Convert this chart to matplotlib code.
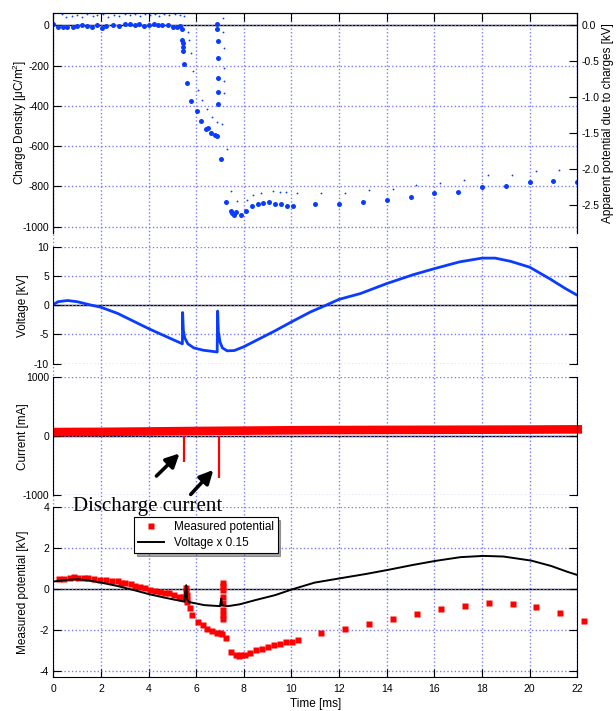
import matplotlib
matplotlib.use('Agg')
import matplotlib.pyplot as plt

plt.rcParams['font.family'] = ['Liberation Sans', 'DejaVu Sans']
plt.rcParams['axes.unicode_minus'] = False

# ---- panel 1: charge density (big dots, left axis) ----
charge_t = [0.0, 0.21, 0.42, 0.56, 0.81, 1.01, 1.2, 1.43, 1.61, 1.82, 2.03, 2.21, 2.52, 2.76,
            3.01, 3.22, 3.43, 3.61, 3.82, 4.0, 4.21, 4.41, 4.57, 4.8, 5.01, 5.18, 5.32, 5.39,
            5.42, 5.43, 5.44, 5.45, 5.5, 5.62, 5.8, 6.02, 6.2, 6.4, 6.5, 6.6, 6.78, 6.86,
            6.87, 6.88, 6.9, 6.91, 6.92, 6.92, 6.93, 7.05, 7.26, 7.45, 7.52, 7.57, 7.68,
            7.86, 8.09, 8.33, 8.58, 8.82, 9.07, 9.3, 9.58, 9.82, 10.07,
            11.0, 12.0, 13.0, 14.0, 15.0, 16.0, 17.0, 18.0, 19.0, 20.0, 21.0, 22.0]
charge_uc = [6, -10, -10, -10, -10, -5, 2, -3, -8, 1, -14, -4, 3, -1,
             8, 8, 4, 5, -2, 1, 5, 1, 0, 3, -8, -7, -1, -20,
             -75, -90, -110, -130, -194, -286, -376, -424, -474, -513, -510, -536, -546, -550,
             5, -20, -80, -164, -264, -330, -392, -665, -877, -920, -933, -940, -926,
             -940, -920, -899, -889, -883, -877, -886, -886, -899, -896,
             -887, -887, -877, -869, -853, -834, -828, -803, -796, -780, -775, -778]

# ---- panel 1: apparent potential (small dots, right axis) ----
appar_t = [0.35, 0.55, 0.8, 1.0, 1.2, 1.4, 1.65, 1.85, 2.1, 2.3, 2.55, 2.75, 3.0, 3.2, 3.45,
           3.65, 3.85, 4.05, 4.25, 4.45, 4.65, 4.85, 5.1, 5.3, 5.5,
           5.67, 5.71, 5.77, 5.85, 6.06, 6.25, 6.46, 6.65, 6.88, 7.07,
           7.11, 7.13, 7.16, 7.16, 7.17, 7.17, 7.28, 7.46, 7.7, 8.12, 8.39, 8.74, 9.23, 9.51,
           9.77, 10.24, 11.26, 12.26, 13.27, 14.26, 15.24, 16.25, 17.24, 18.27, 19.25, 20.26,
           21.24, 22.26]
appar_kv = [0.15, 0.12, 0.13, 0.14, 0.12, 0.15, 0.13, 0.14, 0.16, 0.11, 0.14, 0.13, 0.15, 0.14, 0.16,
            0.13, 0.15, 0.14, 0.16, 0.13, 0.15, 0.14, 0.15, 0.14, 0.13,
            -0.09, -0.2, -0.39, -0.64, -0.9, -1.04, -1.17, -1.28, -1.35, -1.38,
            0.1, -0.09, -0.32, -0.6, -0.78, -0.94, -1.72, -2.31, -2.45, -2.43, -2.36, -2.33, -2.31, -2.32,
            -2.32, -2.34, -2.33, -2.33, -2.30, -2.28, -2.23, -2.19, -2.16, -2.09, -2.08, -2.03,
            -2.02, -2.0]

# ---- panel 2: voltage ----
volt_t = [0, 0.2, 0.6, 1.0, 1.5, 2.0, 2.7, 3.35, 4.0, 4.65, 5.2, 5.42, 5.43, 5.46, 5.52, 5.65,
          5.9, 6.3, 6.6, 6.88, 6.9, 6.93, 7.0, 7.1, 7.3, 7.6, 8.0, 8.6, 9.3, 10.0, 10.8, 11.45,
          12.0, 12.9, 14.0, 15.1, 16.0, 17.05, 18.0, 18.55, 19.2, 20.0, 20.85, 21.5, 22.0]
volt_kv = [0.1, 0.6, 0.8, 0.6, 0.1, -0.35, -1.4, -2.7, -4.0, -5.2, -6.2, -6.6, -1.25, -4.3, -5.6, -6.6,
           -7.3, -7.7, -7.85, -8.0, -1.0, -4.5, -6.3, -7.3, -7.8, -7.75, -7.1, -5.85, -4.4, -2.85, -1.15, 0.0,
           1.0, 2.0, 3.7, 5.2, 6.25, 7.4, 8.05, 8.05, 7.5, 6.5, 4.5, 2.85, 1.7]

# ---- panel 3: current ----
current_t = [0, 2, 4, 6, 8, 10, 12, 14, 16, 18, 20, 22.2]
current_ma = [72, 75, 82, 90, 96, 102, 106, 108, 110, 112, 114, 118]
spike_t = [5.48, 6.95]
spike_ma = [-430, -712]

# ---- panel 4: measured potential and scaled voltage ----
meas_t = [0.22, 0.46, 0.71, 0.88, 1.04, 1.29, 1.46, 1.7, 1.95, 2.2, 2.45, 2.7, 2.86, 3.03, 3.25,
          3.44, 3.66, 3.86, 4.06, 4.27, 4.49, 4.69, 4.85, 5.07, 5.26, 5.43, 5.51,
          5.58, 5.59, 5.6, 5.61, 5.62, 5.76, 5.84, 6.06, 6.27, 6.46, 6.67, 6.89, 7.0, 7.09,
          7.12, 7.12, 7.12, 7.13, 7.13, 7.13, 7.14, 7.14, 7.25, 7.47, 7.67, 7.78, 7.9, 8.03,
          8.26, 8.53, 8.77, 9.02, 9.27, 9.52, 9.77, 10.02, 10.28,
          11.26, 12.25, 13.26, 14.25, 15.28, 16.27, 17.27, 18.28, 19.29, 20.28, 21.27, 22.28]
meas_kv = [0.5, 0.5, 0.55, 0.59, 0.57, 0.57, 0.57, 0.52, 0.47, 0.46, 0.42, 0.39, 0.33, 0.29, 0.24,
           0.16, 0.1, 0.05, -0.03, -0.07, -0.11, -0.2, -0.2, -0.28, -0.36, -0.39, -0.39,
           0.05, -0.1, -0.3, -0.5, -0.6, -0.93, -1.26, -1.58, -1.75, -1.91, -2.02, -2.12, -2.15, -2.19,
           0.33, 0.16, -0.03, -0.36, -0.69, -1.0, -1.26, -1.47, -2.37, -3.05, -3.21, -3.26, -3.21, -3.21,
           -3.1, -2.97, -2.92, -2.81, -2.72, -2.68, -2.56, -2.56, -2.48,
           -2.12, -1.94, -1.7, -1.45, -1.21, -0.96, -0.82, -0.65, -0.72, -0.85, -1.14, -1.53]

scaled_t = [0, 0.55, 1.04, 1.54, 2.0, 2.7, 3.36, 4.0, 4.69, 5.5, 5.58, 5.62, 5.7, 6.34, 7.0,
            7.05, 7.08, 7.33, 7.83, 8.5, 9.32, 10.03, 10.98, 12.05, 13.13, 14.06, 15.1, 16.06,
            17.1, 18.06, 18.9, 20.07, 20.9, 21.57, 22.0]
scaled_kv = [0.38, 0.46, 0.49, 0.42, 0.33, 0.16, -0.03, -0.23, -0.41, -0.6, 0.2, -0.5, -0.62, -0.77, -0.82,
             -0.45, -0.78, -0.82, -0.73, -0.52, -0.28, 0.0, 0.33, 0.54, 0.75, 0.95, 1.19, 1.39,
             1.57, 1.63, 1.6, 1.4, 1.14, 0.86, 0.7]

x_ticks = list(range(0, 23, 2))
grid_col = '#7a7aff'
blue = '#0a3cff'
red = '#ff0000'
tick_fs = 7.5
label_fs = 8.5

W, H = 616, 711
fig = plt.figure(figsize=(W / 100, H / 100), dpi=100)


def rect(top, bottom, left=53.3, right=577.3):
    return [left / W, 1 - bottom / H, (right - left) / W, (bottom - top) / H]


# background axes carrying the vertical grid through all panels
bg = fig.add_axes(rect(12.7, 676.7))
bg.set_xlim(0, 22)
bg.set_xticks(x_ticks)
bg.grid(axis='x', color=grid_col, ls=':', lw=1.0)
bg.tick_params(length=0, labelbottom=False, labelleft=False)
for s in bg.spines.values():
    s.set_visible(False)


def style(ax, top=False, bottom=False):
    ax.set_facecolor('none')
    ax.set_xlim(0, 22)
    ax.set_xticks(x_ticks)
    ax.spines['top'].set_visible(top)
    ax.spines['bottom'].set_visible(bottom)
    ax.tick_params(direction='in', length=5.5, width=0.8, labelsize=tick_fs, pad=3,
                   top=top, bottom=bottom, labelbottom=bottom, right=True)
    ax.grid(axis='y', color=grid_col, ls=':', lw=1.0)
    ax.axhline(0, color='black', lw=1.0, zorder=1.5)


# panel 1
ax1 = fig.add_axes(rect(12.7, 233))
style(ax1, top=True)
ax1.tick_params(axis='y', right=False)
ax1.plot(charge_t, charge_uc, 'o', color=blue, ms=3.6, mec='none')
ax1.set_ylim(-1031, 62.6)
ax1.set_yticks([0, -200, -400, -600, -800, -1000])
ax1.set_ylabel(r'Charge Density [$\mathregular{\mu}$C/m$^\mathregular{2}$]', fontsize=label_fs)
ax1r = ax1.twinx()
ax1r.set_ylim(-2.893, 0.175)
ax1r.plot(appar_t, appar_kv, 'o', color=blue, ms=1.3, mec='none')
ax1r.set_yticks([0.0, -0.5, -1.0, -1.5, -2.0, -2.5])
ax1r.set_yticklabels(['0.0', '-0.5', '-1.0', '-1.5', '-2.0', '-2.5'])
ax1r.tick_params(direction='in', length=5.5, width=0.8, labelsize=tick_fs, pad=3)
ax1r.spines['bottom'].set_visible(False)
ax1r.set_ylabel('Apparent potential due to charges [kV]', fontsize=label_fs, labelpad=2)

# panel 2
ax2 = fig.add_axes(rect(246.7, 363.7))
style(ax2)
ax2.plot(volt_t, volt_kv, color=blue, lw=2.0)
ax2.set_ylim(-10, 10)
ax2.set_yticks([10, 5, 0, -5, -10])
ax2.set_ylabel('Voltage [kV]', fontsize=label_fs)

# panel 3
ax3 = fig.add_axes(rect(377.3, 495.3))
style(ax3)
ax3.plot(current_t, current_ma, color=red, lw=6.2, solid_capstyle='butt', clip_on=False)
ax3.vlines(spike_t, 0, spike_ma, color=red, lw=1.6)
ax3.set_ylim(-1000, 1000)
ax3.set_yticks([1000, 0, -1000])
ax3.set_ylabel('Current [mA]', fontsize=label_fs)
arrow = dict(arrowstyle='-|>', lw=2.6, color='black', mutation_scale=20, shrinkA=0, shrinkB=0)
ax3.annotate('', xy=(5.3, -290), xytext=(4.33, -673), arrowprops=arrow, annotation_clip=False)
ax3.annotate('', xy=(6.72, -570), xytext=(5.77, -985), arrowprops=arrow, annotation_clip=False)
fig.text(73 / W, 1 - 506 / H, 'Discharge current', family=['Liberation Serif', 'DejaVu Serif'],
         fontsize=15, va='center', ha='left')

# panel 4
ax4 = fig.add_axes(rect(507.3, 676.7))
style(ax4, bottom=True)
ax4.plot(meas_t, meas_kv, 's', color=red, ms=3.9, mec='none', clip_on=False, label='Measured potential')
ax4.plot(scaled_t, scaled_kv, color='black', lw=1.4, label='Voltage x 0.15')
ax4.set_ylim(-4.26, 4)
ax4.set_yticks([4, 2, 0, -2, -4])
ax4.tick_params(axis='x', pad=5)
ax4.set_ylabel('Measured potential [kV]', fontsize=label_fs)
ax4.set_xlabel('Time [ms]', fontsize=label_fs, labelpad=3)
leg = ax4.legend(loc='upper left', bbox_to_anchor=(0.154, 0.941), borderaxespad=0, fontsize=8.5,
                 frameon=True, fancybox=False, shadow=True, edgecolor='black', framealpha=1,
                 handlelength=2.2, borderpad=0.35, labelspacing=0.3, markerscale=1.2)
leg.get_frame().set_linewidth(0.8)

for ax in (ax1, ax2, ax3, ax4):
    ax.yaxis.set_label_coords(-0.046, 0.5)

fig.savefig('out.png', dpi=100)
